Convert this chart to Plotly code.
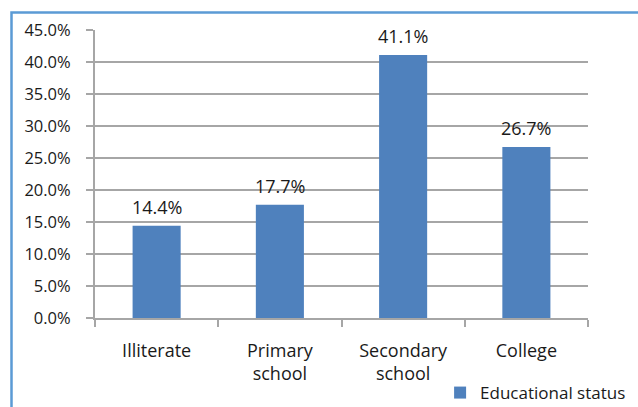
import plotly.graph_objects as go

categories = ["Illiterate", "Primary<br>school", "Secondary<br>school", "College"]
values = [14.4, 17.7, 41.1, 26.7]
series_name = "Educational status"
y_ticks = [0, 5, 10, 15, 20, 25, 30, 35, 40, 45]
y_tick_labels = [f"{v:.1f}%" for v in y_ticks]

FONT = "Open Sans"
TXT = "#1a1a1a"
BAR = "#4F81BD"
GRID = "#A6A6A6"

fig = go.Figure()
fig.add_trace(go.Bar(
    x=categories, y=values, name=series_name,
    marker=dict(color=BAR, line=dict(width=0)),
    showlegend=True,
))

for c, v in zip(categories, values):
    fig.add_annotation(x=c, y=v, text=f"{v:.1f}%", showarrow=False,
                       yanchor="bottom", yshift=5,
                       font=dict(family=FONT, size=18, color=TXT))

W, H = 638, 407
ml, mr, mt, mb = 95, 50, 30, 89
pw, ph = W - ml - mr, H - mt - mb

# outer chart border (blue), left and top visible
bx0 = (11.5 - ml) / pw
by1 = 1 + (mt - 12.5) / ph
fig.add_shape(type="rect", xref="paper", yref="paper",
              x0=bx0, x1=1 + (mr + 20) / pw,
              y0=-(mb + 20) / ph, y1=by1,
              line=dict(color="#5B9BD5", width=2.5), layer="above")

fig.update_layout(
    width=W, height=H,
    margin=dict(l=ml, r=mr, t=mt, b=mb, autoexpand=False),
    paper_bgcolor="white", plot_bgcolor="white",
    bargap=0.61,
    font=dict(family=FONT, size=15, color=TXT),
    legend=dict(orientation="h", x=0.70, y=-0.198, xanchor="left", yanchor="top",
                font=dict(family=FONT, size=17, color=TXT),
                itemwidth=30, bgcolor="rgba(0,0,0,0)"),
    xaxis=dict(showline=True, linecolor=GRID, linewidth=2, automargin=False,
               ticks="outside", tickson="boundaries", ticklen=7, tickcolor=GRID,
               tickwidth=2, ticklabelstandoff=15,
               tickfont=dict(family=FONT, size=18, color=TXT)),
    yaxis=dict(range=[0, 45], tickvals=y_ticks, ticktext=y_tick_labels,
               automargin=False,
               showline=True, linecolor=GRID, linewidth=2,
               showgrid=True, gridcolor=GRID, gridwidth=2,
               ticks="outside", ticklen=7, tickcolor=GRID, tickwidth=2,
               ticklabelstandoff=12, zeroline=False,
               tickfont=dict(family=FONT, size=16.5, color=TXT)),
)

fig.write_html("out.html")
